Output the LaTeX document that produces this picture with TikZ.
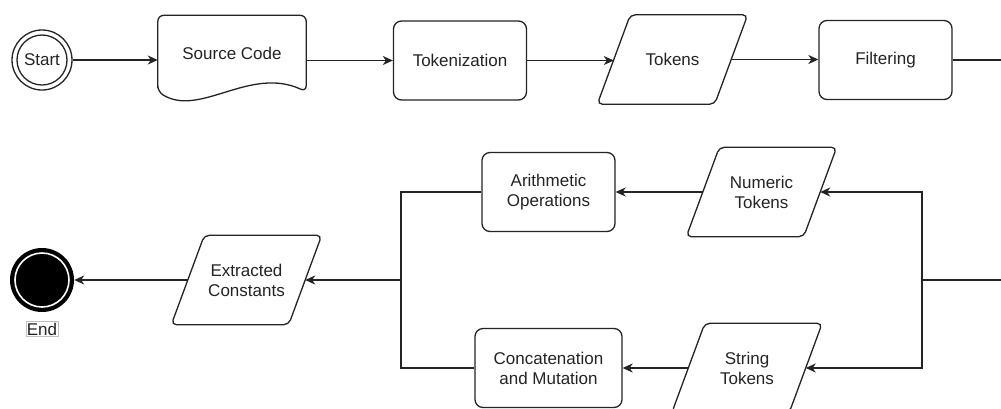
\documentclass[tikz,border=0pt]{standalone}
\usepackage{fontspec}
\setmainfont{Liberation Sans}
\usetikzlibrary{arrows.meta,calc}
\definecolor{ink}{RGB}{36,36,36}
\begin{document}
\begin{tikzpicture}[x=1pt,y=-1pt,
  font=\fontsize{17}{20}\selectfont,
  line/.style={draw=ink, line width=1.3pt},
  conn/.style={line, -{Stealth[length=10pt,width=9pt,inset=3pt]}},
  procbox/.style={line, rounded corners=8pt, minimum width=133pt,
    minimum height=79pt, align=center, inner sep=0pt, text=ink},
  iobox/.style={minimum width=117pt, minimum height=89pt, align=center,
    inner sep=0pt, text=ink},
  iooutline/.style={line, rounded corners=5pt},
]
\fill[white] (0,0) rectangle (1001,408);
\useasboundingbox (0,0) rectangle (1001,408);

% start event
\node[circle, line, minimum size=60pt, inner sep=0pt, text=ink] (start) at (42,60) {Start};
\draw[line] (start) circle (25pt);

% source document
\node[minimum width=148pt, minimum height=76pt, inner sep=0pt, text=ink] (src) at (232,53.5) {Source Code};
\draw[line, rounded corners=6pt] (src.south west) -- (src.north west) -- (src.north east) -- (src.south east)
  .. controls ([shift={(92pt,26pt)}]src.south west) and ([shift={(42pt,-26pt)}]src.south west) .. (src.south west) -- cycle;

% top row
\node[procbox] (tokz) at (460,60.5) {Tokenization};
\node[iobox] (tok) at (672.5,59.5) {Tokens};
\node[procbox] (filt) at (885.5,60) {Filtering};

% branches
\node[iobox] (num) at (761.5,192) {Numeric\\Tokens};
\node[iobox] (str) at (747,368) {String\\Tokens};
\node[procbox] (arith) at (548.5,192) {Arithmetic\\Operations};
\node[procbox, minimum width=147pt] (conc) at (548.5,368) {Concatenation\\and Mutation};
\node[iobox] (ext) at (246.5,280) {Extracted\\Constants};

% input/output parallelograms
\foreach \n in {tok,num,str,ext}{
  \draw[iooutline] ([xshift=16.5pt]\n.north west) -- ([xshift=16.5pt]\n.north east)
    -- ([xshift=-16.5pt]\n.south east) -- ([xshift=-16.5pt]\n.south west) -- cycle;
}

% end event
\node[circle, fill=black, minimum size=64pt, inner sep=0pt] (end) at (42,280) {};
\draw[white, line width=1.6pt] (end) circle (27pt);
\node[draw=black!25, line width=0.6pt, inner sep=1pt, text=ink] (endlbl) at (42,329) {End};

% junction points
\coordinate (outA) at (1001,60);
\coordinate (inB) at (1001,280);
\coordinate (split) at (922,280);
\coordinate (merge) at (401,280);

% connectors
\draw[conn] (start.east) -- (start.east -| src.west);
\draw[conn] (src.east |- tokz.west) -- (tokz.west);
\draw[conn] (tokz.east) -- (tokz.east -| tok.west);
\draw[conn] (tok.east) -- (tok.east -| filt.west);
\draw[line] (filt.east) -- (outA);

\draw[line] (inB) -- (split);
\draw[conn] (split) |- (num.east);
\draw[conn] (split) |- (str.east);
\draw[conn] (num.west) -- (num.west -| arith.east);
\draw[conn] (str.west) -- (str.west -| conc.east);
\draw[line] (arith.west) -| (merge);
\draw[line] (conc.west) -| (merge);
\draw[conn] (merge) -- (ext.east);
\draw[conn] (ext.west) -- (end.east);
\end{tikzpicture}
\end{document}
